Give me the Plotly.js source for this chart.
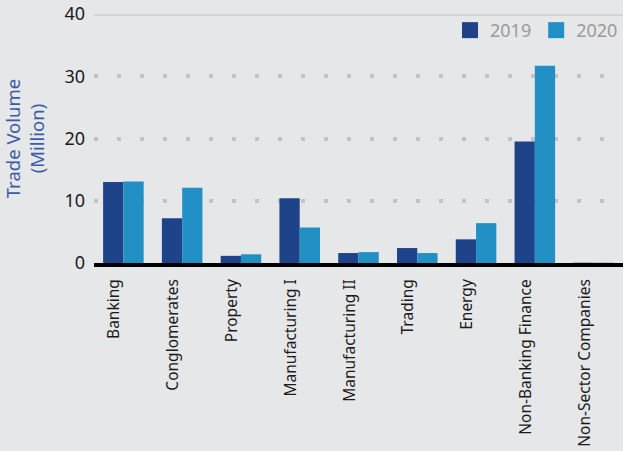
<!DOCTYPE html>
<html>
<head>
<meta charset="utf-8">
<script src="https://cdn.plot.ly/plotly-3.0.1.min.js"></script>
<style>
html,body{margin:0;padding:0;background:#e6e7e9;}
#chart{width:623px;height:451px;}
</style>
</head>
<body>
<div id="chart"></div>
<script>
var categories = ["Banking","Conglomerates","Property","Manufacturing I","Manufacturing II","Trading","Energy","Non-Banking Finance","Non-Sector Companies"];
var values2019 = [13.0, 7.2, 1.15, 10.4, 1.6, 2.4, 3.8, 19.5, 0.05];
var values2020 = [13.1, 12.1, 1.4, 5.7, 1.75, 1.6, 6.4, 31.7, 0.05];
var seriesNames = ["2019","2020"];
var yTicks = [0,10,20,30,40];

var c2019 = "#1e4389";
var c2020 = "#2290c5";

var traces = [
  {type:"bar", x:categories, y:values2019, name:seriesNames[0], marker:{color:c2019}, showlegend:false, hoverinfo:"x+y"},
  {type:"bar", x:categories, y:values2020, name:seriesNames[1], marker:{color:c2020}, showlegend:false, hoverinfo:"x+y"},
  {type:"scatter", mode:"markers", x:[null], y:[null], name:seriesNames[0], marker:{symbol:"square", size:16, color:c2019}},
  {type:"scatter", mode:"markers", x:[null], y:[null], name:seriesNames[1], marker:{symbol:"square", size:16, color:c2020}}
];

var layout = {
  width:623, height:451,
  paper_bgcolor:"#e6e7e9", plot_bgcolor:"#e6e7e9",
  margin:{l:94, r:0, t:13.5, b:187.5},
  font:{family:"Noto Sans, Open Sans, sans-serif", color:"#1a1a1a"},
  barmode:"group", bargap:0.31, bargroupgap:0,
  xaxis:{
    type:"category", range:[-0.5, 8.5],
    tickangle:-90, tickfont:{size:15.5, color:"#1a1a1a"},
    ticks:"", ticklabelstandoff:6, ticklabelshift:-9,
    showline:true, linecolor:"#000000", linewidth:4,
    showgrid:false, zeroline:false, fixedrange:true
  },
  yaxis:{
    range:[0,40], tickvals:yTicks, ticktext:yTicks.map(String),
    tickfont:{size:18, color:"#1a1a1a"},
    ticks:"", ticklabelstandoff:8,
    showgrid:true, gridcolor:"#c2c3c5", gridwidth:4, griddash:"4px,19px",
    zeroline:false, showline:false,
    title:{text:"Trade Volume<br>(Million)", font:{size:18.5, color:"#3c5ca6"}, standoff:14},
    fixedrange:true
  },
  shapes:[
    {type:"line", xref:"paper", yref:"y", x0:0, x1:1, y0:40, y1:40, line:{color:"#d3d4d6", width:4}, layer:"above"}
  ],
  legend:{
    orientation:"h", x:1, xanchor:"right", y:0.934, yanchor:"middle",
    bgcolor:"rgba(0,0,0,0)", font:{size:18, color:"#9a9a9a"},
    itemsizing:"trimmed"
  },
  showlegend:true
};

Plotly.newPlot("chart", traces, layout, {displayModeBar:false, staticPlot:true});
</script>
</body>
</html>
